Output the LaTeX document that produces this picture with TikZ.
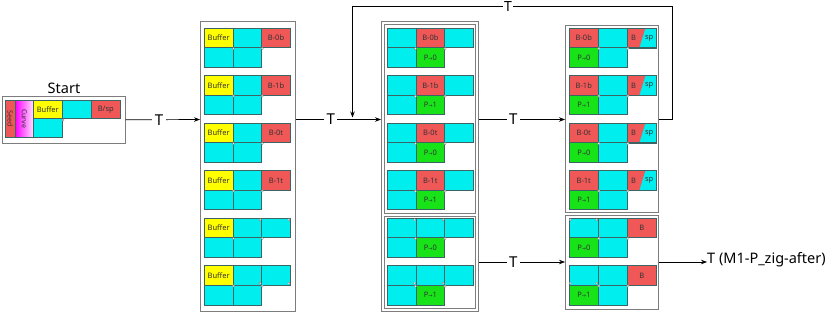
\documentclass[tikz,border=0pt]{standalone}
\usepackage{fontspec}
\setmainfont{Noto Sans}
\newfontfamily\djv{DejaVu Sans}
\usetikzlibrary{arrows.meta,calc}
\definecolor{ccyan}{RGB}{0,238,238}
\definecolor{cred}{RGB}{240,88,88}
\definecolor{cyel}{RGB}{255,255,0}
\definecolor{cgreen}{RGB}{24,226,24}
\definecolor{cellline}{RGB}{60,100,100}
\definecolor{boxline}{RGB}{125,125,125}
\newcommand\parr{{\djv\fontsize{5}{5}\selectfont→}}
\tikzset{
  cell/.style={draw=cellline, line width=0.6pt, minimum width=28.7pt, minimum height=19.5pt,
    inner sep=0pt, anchor=north west, font=\fontsize{7.5}{8}\selectfont, text=black!80},
  cbox/.style={draw=boxline, line width=0.7pt, anchor=north west, inner sep=0pt},
  conn/.style={draw=black, line width=0.7pt, -{Stealth[length=6pt,width=4.5pt]}},
  tlab/.style={fill=white, inner sep=2.5pt, font=\fontsize{15}{15}\selectfont},
  mk/.style={fill=white, draw=gray, line width=0.3pt},
  small/.style={inner sep=0pt, font=\fontsize{7.5}{8}\selectfont, text=black!80}
}
% column 2 unit: name, x, y, fill of third cell, label of third cell
\newcommand\ctwo[5]{%
  \node[cell,fill=cyel] (#1a) at (#2,#3) {Buffer};
  \node[cell,fill=ccyan] (#1b) at (#2+28.7,#3) {};
  \node[cell,fill=#4] (#1c) at (#2+57.4,#3) {#5};
  \node[cell,fill=ccyan] (#1d) at (#2,#3+19.5) {};
  \node[cell,fill=ccyan] (#1e) at (#2+28.7,#3+19.5) {};
  \fill[mk] (#2+29.5,#3+20.5) circle (1.2);
  \fill[mk] (#2+58.2,#3+20.5) circle (1.2);
}
% column 3 unit: name, x, y, fill of middle, label of middle, P label
\newcommand\cthree[6]{%
  \node[cell,fill=ccyan] (#1a) at (#2,#3) {};
  \node[cell,fill=#4] (#1b) at (#2+28.7,#3) {#5};
  \node[cell,fill=ccyan] (#1c) at (#2+57.4,#3) {};
  \node[cell,fill=ccyan] (#1d) at (#2,#3+19.5) {};
  \node[cell,fill=cgreen] (#1e) at (#2+28.7,#3+19.5) {#6};
  \fill[mk] (#2+28.4,#3+20.7) circle (1.2);
  \fill[mk] (#2+58,#3+20.7) circle (1.2);
}
% column 4 unit (split cell): name, x, y, B label, P label
\newcommand\cfour[5]{%
  \node[cell,fill=cred,minimum width=29pt] (#1a) at (#2,#3) {#4};
  \node[cell,fill=ccyan,minimum width=29pt] (#1b) at (#2+29,#3) {};
  \node[cell,fill=ccyan,minimum width=29pt,
    path picture={\fill[cred] (path picture bounding box.north west) -- ++(18,0)
      -- ([xshift=12pt]path picture bounding box.south west)
      -- (path picture bounding box.south west) -- cycle;}] (#1c) at (#2+58,#3) {};
  \draw[cellline, line width=0.6pt] (#1c.north west) rectangle (#1c.south east);
  \node[small] (#1cb) at ($(#1c.west)+(6.5,0)$) {B};
  \node[small] (#1cs) at ($(#1c.east)+(-7.5,0)$) {sp};
  \node[cell,fill=cgreen,minimum width=29pt] (#1d) at (#2,#3+19.5) {#5};
  \node[cell,fill=ccyan,minimum width=29pt] (#1e) at (#2+29,#3+19.5) {};
  \fill[mk] (#2+29.8,#3+20.5) circle (1.2);
  \fill[mk] (#2+58.8,#3+20.5) circle (1.2);
}
% column 4 lower unit: name, x, y, P label
\newcommand\cfive[4]{%
  \node[cell,fill=ccyan,minimum width=29pt] (#1a) at (#2,#3) {};
  \node[cell,fill=ccyan,minimum width=29pt] (#1b) at (#2+29,#3) {};
  \node[cell,fill=cred,minimum width=29pt] (#1c) at (#2+58,#3) {B};
  \node[cell,fill=cgreen,minimum width=29pt] (#1d) at (#2,#3+19.5) {#4};
  \node[cell,fill=ccyan,minimum width=29pt] (#1e) at (#2+29,#3+19.5) {};
  \fill[mk] (#2+29.8,#3+20.5) circle (1.2);
  \fill[mk] (#2+58.8,#3+20.5) circle (1.2);
}
\begin{document}
\begin{tikzpicture}[x=1pt,y=-1pt]
\useasboundingbox[fill=white] (0,0) rectangle (831,318);

% ---------- Start ----------
\node[cbox, minimum width=123.5pt, minimum height=47pt] (start) at (1.5,96) {};
\node[font=\fontsize{14.5}{15}\selectfont, inner sep=0pt] (starttxt) at (64,88) {Start};
\node[cell, fill=cred, minimum width=10pt, minimum height=37pt, font=\fontsize{7}{8}\selectfont] (seed) at (5,100) {\rotatebox{-90}{Seed}};
\node[cell, left color=magenta, right color=magenta!12, minimum width=18pt, minimum height=37pt, font=\fontsize{7}{8}\selectfont] (curve) at (15,100) {\rotatebox{-90}{Curve}};
\node[cell, fill=cyel, minimum width=29pt, minimum height=18.5pt] (sbuf) at (33,100) {Buffer};
\node[cell, fill=ccyan, minimum width=29pt, minimum height=18.5pt] (scy) at (62,100) {};
\node[cell, fill=cred, minimum width=29pt, minimum height=18.5pt] (sbsp) at (91,100) {B/sp};
\node[cell, fill=ccyan, minimum width=29pt, minimum height=18.5pt] (scy2) at (33,118.5) {};
\fill[mk] (63,120) circle (1.2);

% ---------- Column 2 ----------
\node[cbox, minimum width=95pt, minimum height=290pt] (col2) at (200,21) {};
\ctwo{ca}{204}{28}{cred}{B-0b}
\ctwo{cb}{204}{75.5}{cred}{B-1b}
\ctwo{cc}{204}{123}{cred}{B-0t}
\ctwo{cd}{204}{170.5}{cred}{B-1t}
\ctwo{ce}{204}{218}{ccyan}{}
\ctwo{cf}{204}{265.5}{ccyan}{}
\fill[mk] (260.2,219.8) circle (1.2);
\fill[mk] (288.9,219.8) circle (1.2);
\fill[mk] (260.2,283.2) circle (1.2);
\fill[mk] (288.9,283.2) circle (1.2);

% ---------- Column 3 ----------
\node[cbox, minimum width=97pt, minimum height=290pt] (col3) at (381,21) {};
\node[cbox, minimum width=91pt, minimum height=189pt] (col3u) at (384,24) {};
\node[cbox, minimum width=91pt, minimum height=92pt] (col3l) at (384,216) {};
\cthree{da}{387}{28}{cred}{B-0b}{P\parr0}
\cthree{db}{387}{75.5}{cred}{B-1b}{P\parr1}
\cthree{dc}{387}{123}{cred}{B-0t}{P\parr0}
\cthree{dd}{387}{170.5}{cred}{B-1t}{P\parr1}
\cthree{de}{387}{218}{ccyan}{}{P\parr0}
\cthree{df}{387}{265.5}{ccyan}{}{P\parr1}
\fill[mk] (414.5,219.8) circle (1.2);
\fill[mk] (443.2,219.8) circle (1.2);
\fill[mk] (414.5,283.2) circle (1.2);
\fill[mk] (443.2,283.2) circle (1.2);

% ---------- Column 4 ----------
\node[cbox, minimum width=93pt, minimum height=187pt] (col4u) at (565,25) {};
\node[cbox, minimum width=93pt, minimum height=94pt] (col4l) at (565,215) {};
\cfour{ea}{569}{28}{B-0b}{P\parr0}
\cfour{eb}{569}{75.5}{B-1b}{P\parr1}
\cfour{ec}{569}{123}{B-0t}{P\parr0}
\cfour{ed}{569}{170.5}{B-1t}{P\parr1}
\cfive{ee}{569}{218}{P\parr0}
\cfive{ef}{569}{265.5}{P\parr1}
\fill[mk] (570.2,219.8) circle (1.2);
\fill[mk] (596.8,219.8) circle (1.2);
\fill[mk] (570.2,283.2) circle (1.2);
\fill[mk] (596.8,283.2) circle (1.2);

% ---------- Connectors ----------
\coordinate (midy) at (0,119.5);
\coordinate (lowy) at (0,262);
\coordinate (fbTR) at (672,6);
\coordinate (fbEnd) at (352.5,117.5);

\draw[conn] (start.east) -- node[tlab, pos=0.45] (t1) {T} (col2.west |- midy);
\draw[conn] (col2.east |- midy) -- node[tlab, pos=0.41] (t2) {T} (col3.west |- midy);
\draw[conn] (col3.east |- midy) -- node[tlab, pos=0.4] (t3) {T} (col4u.west |- midy);
\draw[conn] (col3.east |- lowy) -- node[tlab, pos=0.4] (t4) {T} (col4l.west |- lowy);
\draw[conn] (col4u.east |- midy) -| (fbTR) -| (fbEnd);
\node[font=\fontsize{14}{14}\selectfont, inner sep=0.8pt, fill=white, anchor=base] (t5) at (508,11.5) {T};
\node[font=\fontsize{14.5}{15}\selectfont, anchor=west, inner sep=0pt] (final) at (707,260) {T (M1-P\_zig-after)};
\draw[conn] (col4l.east |- lowy) -- (final.west |- lowy);
\end{tikzpicture}
\end{document}
